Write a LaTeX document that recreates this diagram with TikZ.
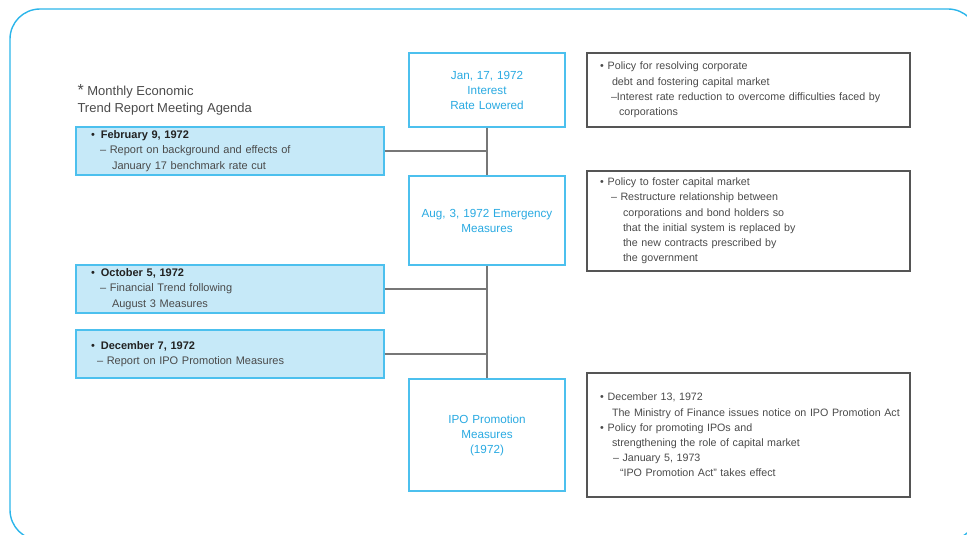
\documentclass[tikz,border=0pt]{standalone}
\usepackage{fontspec}
\setmainfont{Liberation Sans}
\definecolor{framec}{HTML}{2BB5EA}
\definecolor{bluefill}{HTML}{C6E9F8}
\definecolor{blueline}{HTML}{4CC0EE}
\definecolor{bluetext}{HTML}{2AAAE2}
\definecolor{graytext}{HTML}{4A4A4A}
\definecolor{darktext}{HTML}{222222}
\definecolor{boxgray}{HTML}{555555}
\definecolor{linkgray}{HTML}{777777}
\tikzset{
  agendabox/.style={draw=blueline, fill=bluefill, line width=1.2pt, minimum width=308pt, minimum height=48pt,
    text width=290pt, inner xsep=9pt, inner ysep=0pt, align=left, text=graytext,
    font=\fontsize{11}{15.5}\selectfont},
  eventbox/.style={draw=blueline, fill=white, line width=1.2pt, minimum width=156pt, text width=150pt,
    inner xsep=3pt, inner ysep=0pt, align=center, text=bluetext, font=\fontsize{11.7}{15}\selectfont},
  policybox/.style={draw=boxgray, line width=1.4pt, minimum width=323pt, text width=297pt,
    inner xsep=13pt, inner ysep=0pt, align=left, text=graytext, font=\fontsize{10.7}{15.2}\selectfont},
  link/.style={draw=linkgray, line width=1.5pt}
}
\begin{document}
\begin{tikzpicture}[x=1pt,y=-1pt]
\useasboundingbox (0,0) rectangle (967,535);
\clip (0,0) rectangle (967,535);
\draw[framec, line width=1.4pt, rounded corners=30pt] (10,9) rectangle (978,540);

\node[anchor=west, align=left, text=graytext, font=\fontsize{13}{17}\selectfont] (title) at (74,99.5)
  {{\fontsize{16}{17}\selectfont*} Monthly Economic\\Trend Report Meeting Agenda};

% central timeline boxes
\node[eventbox, minimum height=74pt] (A) at (487,90) {Jan, 17, 1972\\Interest\\Rate Lowered};
\node[eventbox, minimum height=89pt] (B) at (487,220.5) {Aug, 3, 1972 Emergency\\Measures};
\node[eventbox, minimum height=112pt] (C) at (487,435) {IPO Promotion\\Measures\\(1972)};

% agenda boxes
\node[agendabox] (b1) at (230,151)
  {\hspace*{6pt}{\color{darktext}•\hspace{6pt}\textbf{February 9, 1972}}\\
   \hspace*{15pt}– Report on background and effects of\\
   \hspace*{27pt}January 17 benchmark rate cut};
\node[agendabox] (b2) at (230,289)
  {\hspace*{6pt}{\color{darktext}•\hspace{6pt}\textbf{October 5, 1972}}\\
   \hspace*{15pt}– Financial Trend following\\
   \hspace*{27pt}August 3 Measures};
\node[agendabox] (b3) at (230,354)
  {\hspace*{6pt}{\color{darktext}•\hspace{6pt}\textbf{December 7, 1972}}\\
   \hspace*{12pt}– Report on IPO Promotion Measures};

% policy boxes
\node[policybox, minimum height=74pt] (r1) at (748.5,90)
  {•\hspace{4pt}Policy for resolving corporate\\
   \hspace*{12pt}debt and fostering capital market\\
   \hspace*{11pt}\mbox{–Interest rate reduction to overcome difficulties faced by}\\
   \hspace*{19pt}corporations};
\node[policybox, minimum height=100pt] (r2) at (748.5,221)
  {•\hspace{4pt}Policy to foster capital market\\
   \hspace*{11pt}– Restructure relationship between\\
   \hspace*{23pt}corporations and bond holders so\\
   \hspace*{23pt}that the initial system is replaced by\\
   \hspace*{23pt}the new contracts prescribed by\\
   \hspace*{23pt}the government};
\node[policybox, minimum height=124pt] (r3) at (748.5,435)
  {•\hspace{4pt}December 13, 1972\\
   \hspace*{12pt}\mbox{The Ministry of Finance issues notice on IPO Promotion Act}\\
   •\hspace{4pt}Policy for promoting IPOs and\\
   \hspace*{12pt}strengthening the role of capital market\\
   \hspace*{13pt}– January 5, 1973\\
   \hspace*{20pt}“IPO Promotion Act” takes effect};

% connectors
\draw[link] (A.south) -- (B.north);
\draw[link] (B.south) -- (C.north);
\draw[link] (b1.east) -- (b1.east -| A.south);
\draw[link] (b2.east) -- (b2.east -| A.south);
\draw[link] (b3.east) -- (b3.east -| A.south);
\end{tikzpicture}
\end{document}
